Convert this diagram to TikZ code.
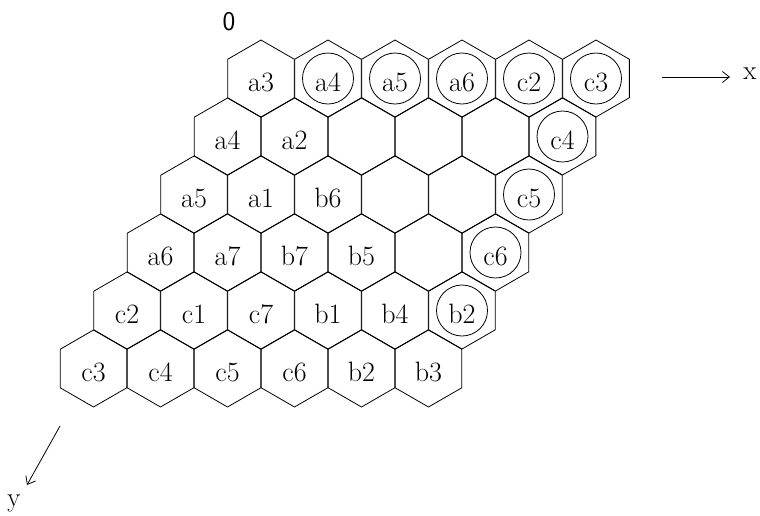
\documentclass[tikz,border=0pt]{standalone}
\usetikzlibrary{shapes.geometric,arrows.meta}

\begin{document}
\begin{tikzpicture}[x=1pt, y=-1pt, line width=0.8pt, >={Straight Barb[length=7pt,width=11pt]}]
	% Stili per le celle esagonali e per gli anelli
	\tikzset{cella/.style={regular polygon, regular polygon sides=6, shape border rotate=30, draw, minimum size=77pt, inner sep=0pt, text height=25pt, text depth=0pt, font=\fontsize{28}{32}\selectfont},
		anello/.style={circle, draw, minimum size=51pt, inner sep=0pt},
		etichetta/.style={inner sep=0pt, font=\fontsize{27}{30}\selectfont}}
	\useasboundingbox (0,0) rectangle (760,515);
	
	% Griglia 6x6 di esagoni, riga per riga
	\foreach \nomi [count=\r from 0] in {{a3,a4,a5,a6,c2,c3},{a4,a2,{},{},{},c4},{a5,a1,b6,{},{},c5},{a6,a7,b7,b5,{},c6},{c2,c1,c7,b1,b4,b2},{c3,c4,c5,c6,b2,b3}}
		\foreach \t [count=\c from 0] in \nomi
			\node[cella] (h\r\c) at ({261+67*\c-33.5*\r}, {78.5+58*\r}) {\t};
	
	% Celle cerchiate
	\foreach \n in {h01,h02,h03,h04,h05,h15,h25,h35,h45}
		\node[anello] (o\n) at (\n) {};
	
	% Origine e assi
	\node[etichetta, font=\fontsize{27}{30}\selectfont\sffamily] (zero) at (229, 22) {0};
	\coordinate (xa) at (662, 77);
	\coordinate (xb) at (730, 77);
	\node[etichetta] (lx) at (750, 74) {x};
	\draw[->] (xa) -- (xb);
	\coordinate (ya) at (60, 426);
	\coordinate (yb) at (27, 485);
	\node[etichetta] (ly) at (14, 503) {y};
	\draw[->] (ya) -- (yb);
\end{tikzpicture}
\end{document}
